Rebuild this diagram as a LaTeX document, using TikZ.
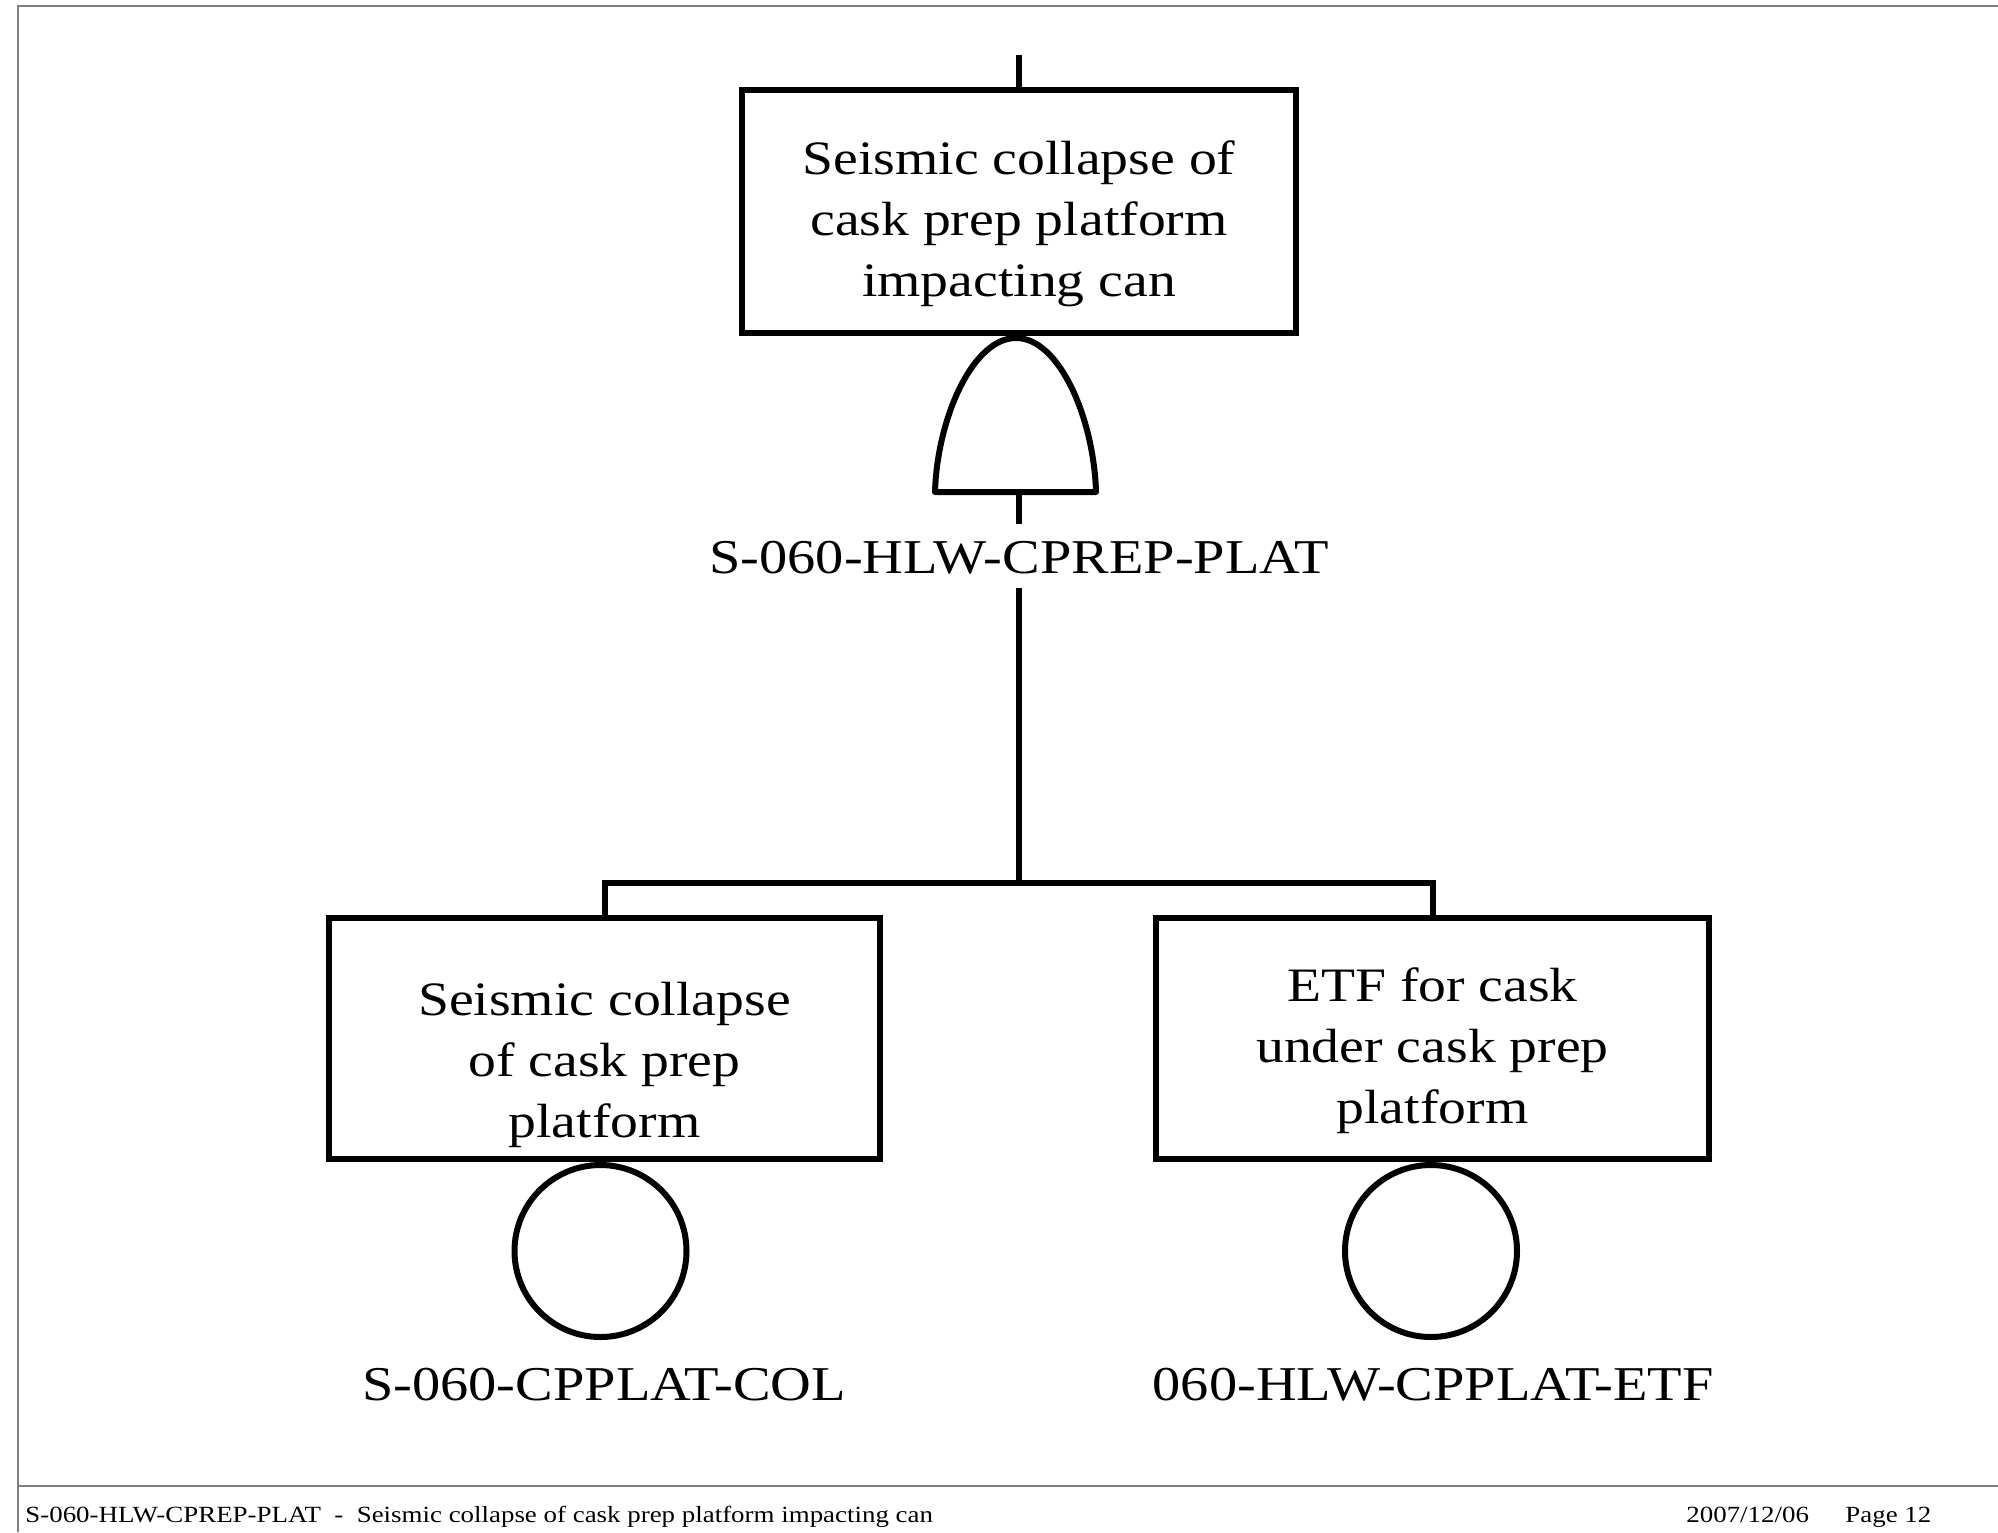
\documentclass[tikz,border=0pt]{standalone}
\usepackage{fontspec}
\setmainfont[FakeStretch=1.16]{Liberation Serif}
\begin{document}
\begin{tikzpicture}[x=0.5pt,y=-0.5pt,
  thick line/.style={line width=3pt},
  frame line/.style={line width=1pt, draw=black!50},
  eventbox/.style={draw, line width=3pt, inner sep=0pt, minimum width=#1, minimum height=120.5pt},
  boxtext/.style={align=center, inner sep=0pt, font=\fontsize{24}{30.5}\selectfont},
  idlabel/.style={inner sep=0pt, anchor=base, font=\fontsize{24.3}{28}\selectfont},
  basic/.style={draw, circle, line width=3pt, inner sep=0pt, minimum size=86pt},
  foot/.style={inner sep=0pt, anchor=base west, font=\fontsize{11.6}{14}\selectfont}]
\useasboundingbox (0,0) rectangle (1998,1532);
\fill[white] (0,0) rectangle (1998,1532);
% page frame
\draw[frame line] (18,1532) -- (18,6) -- (1998,6);
\draw[frame line] (18,1486) -- (1998,1486);
% top event
\node[eventbox=277pt, minimum height=121.5pt] (top) at (1019,211.5) {};
\node[boxtext] (toptext) at (1019,224) {Seismic collapse of\\cask prep platform\\impacting can};
\coordinate (topin) at (1019,55);
\draw[thick line] (topin) -- (top.north);
% AND gate
\coordinate (gbase) at (1019,492);
\draw[thick line, line join=round] (935,492) .. controls (937,420) and (972,338) .. (1016,338)
  .. controls (1060,338) and (1094,420) .. (1096,492) -- cycle;
\node[idlabel] (gatelabel) at (1019,573) {S-060-HLW-CPREP-PLAT};
\draw[thick line] (gbase) -- (1019,524);
\coordinate (bar) at (1019,883);
\draw[thick line] (1019,588) -- (bar);
% children
\node[eventbox=275.5pt] (left) at (604.5,1038.5) {};
\node[boxtext] (lefttext) at (604.5,1065) {Seismic collapse\\of cask prep\\platform};
\node[eventbox=276.5pt] (right) at (1432.5,1038.5) {};
\node[boxtext] (righttext) at (1432.5,1051) {ETF for cask\\under cask prep\\platform};
\draw[thick line] (left.north) |- (bar) -| (right.north);
% basic events
\node[basic] (lcirc) at (600.5,1251) {};
\node[basic] (rcirc) at (1431,1251) {};
\node[idlabel] (llabel) at (604,1400) {S-060-CPPLAT-COL};
\node[idlabel] (rlabel) at (1433,1400) {060-HLW-CPPLAT-ETF};
% footer
\node[foot] (f1) at (25,1522) {S-060-HLW-CPREP-PLAT\ \ -\ \ Seismic collapse of cask prep platform impacting can};
\node[foot] (f2) at (1686,1522) {2007/12/06};
\node[foot] (f3) at (1845,1522) {Page 12};
\end{tikzpicture}
\end{document}
